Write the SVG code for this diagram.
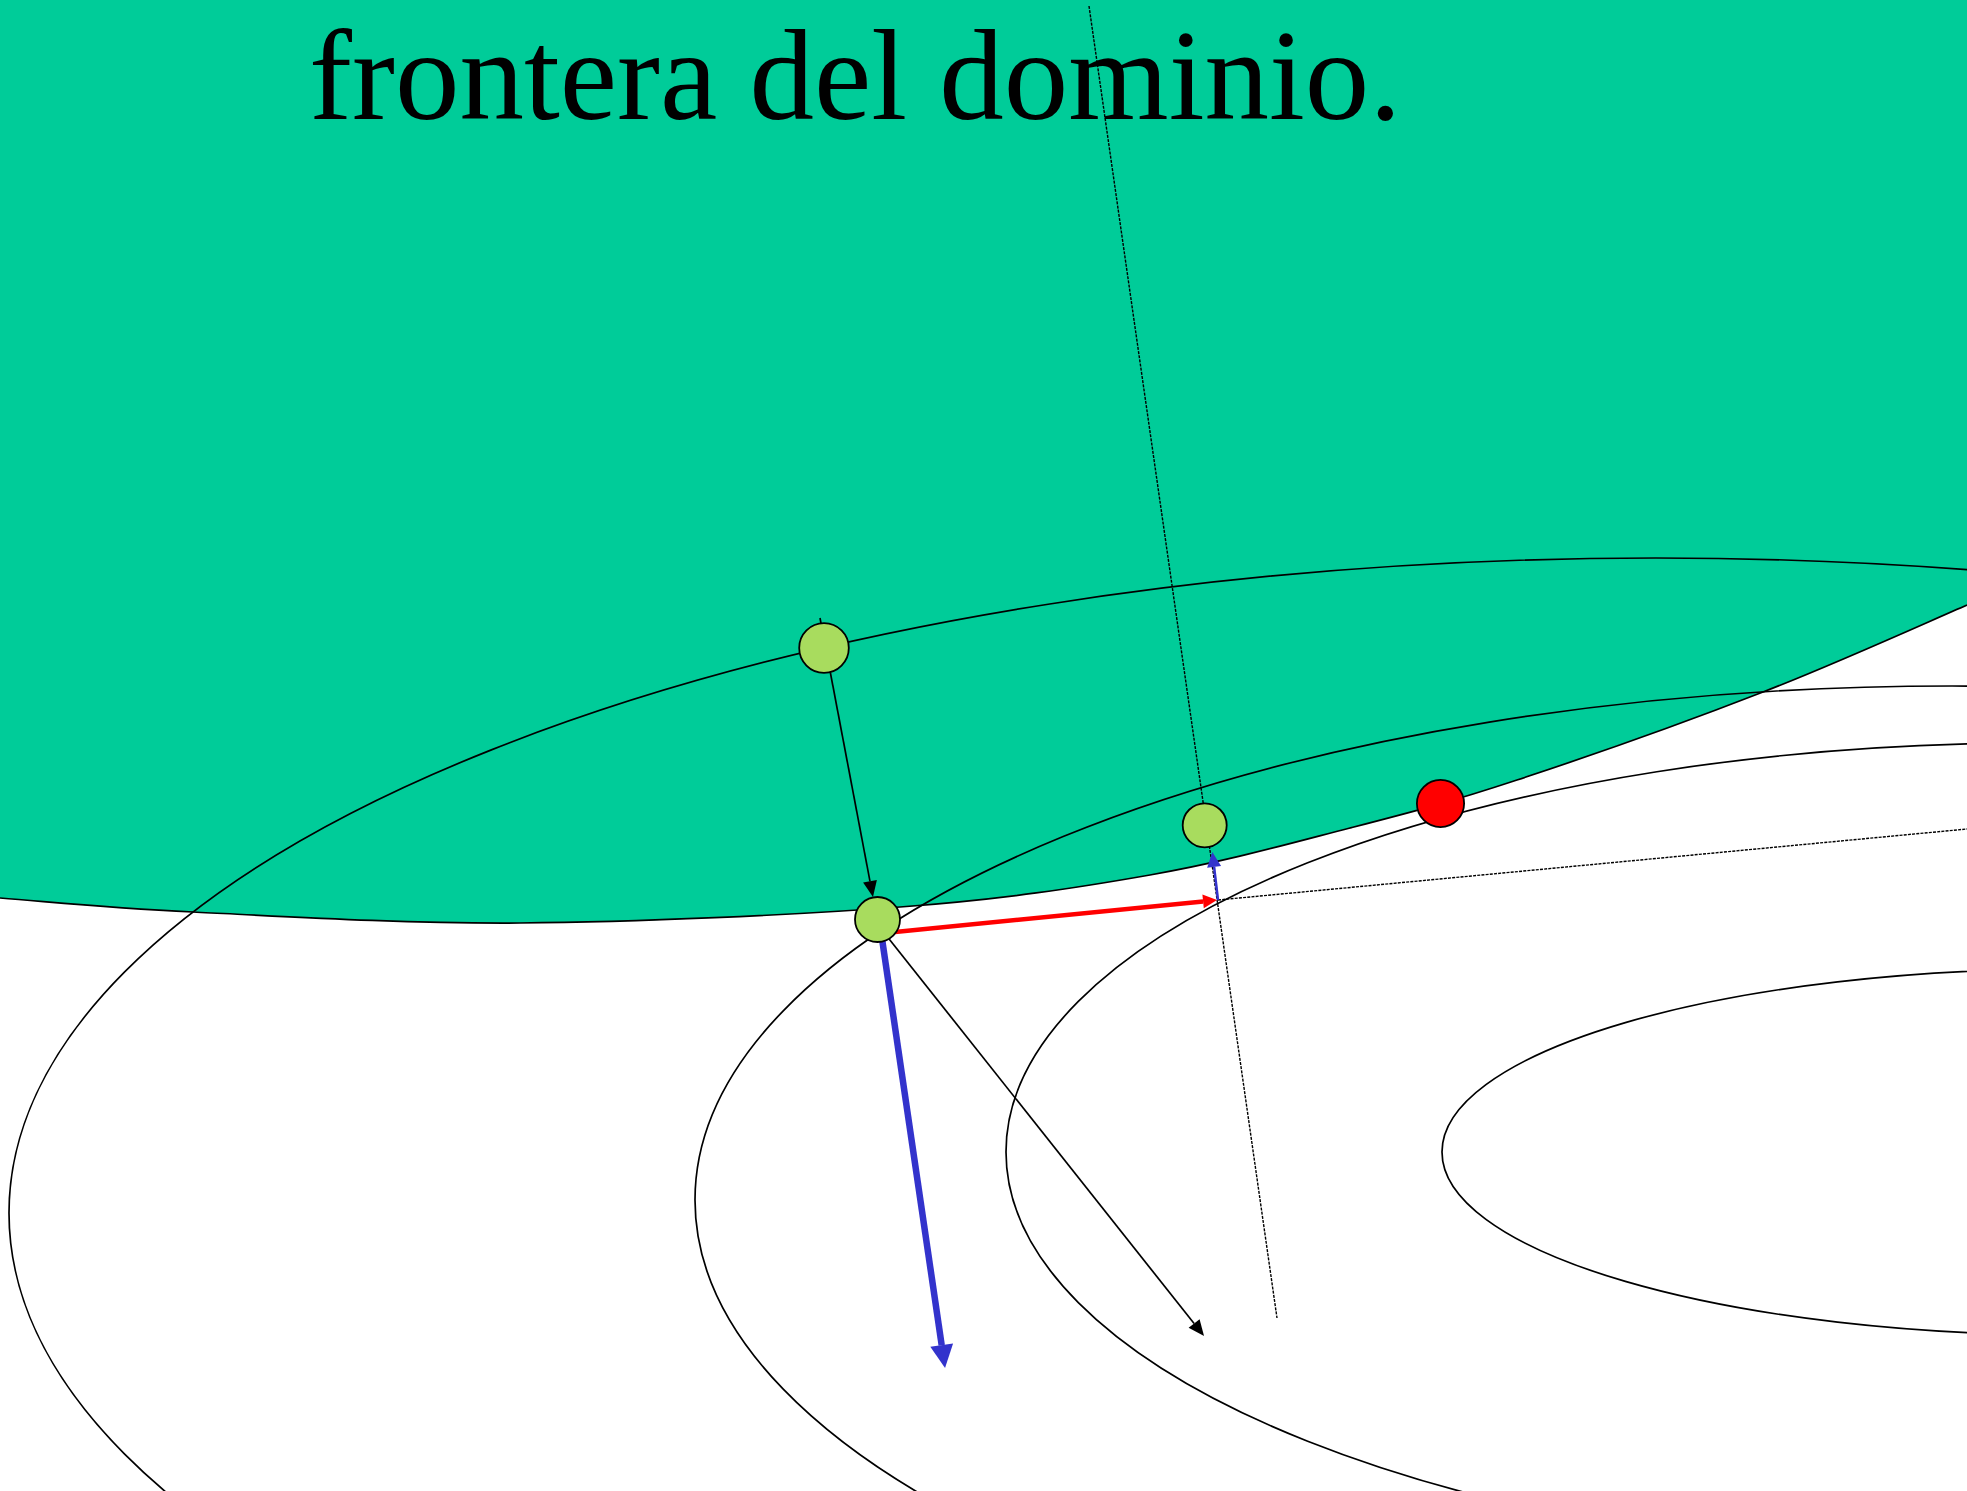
<svg xmlns="http://www.w3.org/2000/svg" width="1967" height="1491" viewBox="0 0 1967 1491">
<style>
.contour{fill:none;stroke:#000;stroke-width:1.7}
.dash{fill:none;stroke:#000;stroke-width:1.4;stroke-dasharray:3 1.2}
.pt{fill:#A8DC5E;stroke:#000;stroke-width:1.8}
.best{fill:#FF0000;stroke:#000;stroke-width:1.8}
.title{font-family:"Liberation Serif","Times New Roman",serif;font-size:129px;fill:#000}
</style>
<defs>
<marker id="ahBlack" markerUnits="userSpaceOnUse" markerWidth="16" markerHeight="14" refX="0" refY="7" orient="auto" overflow="visible"><path d="M0,0 L16,7 L0,14 Z" fill="#000"/></marker>
<marker id="ahRed" markerUnits="userSpaceOnUse" markerWidth="14" markerHeight="14" refX="0" refY="7" orient="auto" overflow="visible"><path d="M0,0 L14,7 L0,14 Z" fill="#FF0000"/></marker>
<marker id="ahBlueBig" markerUnits="userSpaceOnUse" markerWidth="23" markerHeight="23" refX="0" refY="11.5" orient="auto" overflow="visible"><path d="M0,0 L23,11.5 L0,23 Z" fill="#3333CC"/></marker>
<marker id="ahBlueSmall" markerUnits="userSpaceOnUse" markerWidth="15" markerHeight="14" refX="0" refY="7" orient="auto" overflow="visible"><path d="M0,0 L15,7 L0,14 Z" fill="#3333CC"/></marker>
</defs>
<rect x="0" y="0" width="1967" height="1491" fill="#FFFFFF"/>
<g id="domain">
<path d="M0,0 L0,898 C65.5,903.3 106.3,907.8 193,912 C279.7,916.2 402.2,923.8 520,923 C637.8,922.2 795,915 900,907 C1005,899 1075,888.2 1150,875 C1225,861.8 1288.8,843.8 1350,828 C1411.2,812.2 1448.2,802.7 1517,780 C1585.8,757.3 1688,721.2 1763,692 C1838,662.8 1927.5,622 1967,605 L1967,0 Z" fill="#00CC99"/>
</g>
<g id="contours">
<ellipse class="contour" cx="1656" cy="1213" rx="1647" ry="655"/>
<ellipse class="contour" cx="1952" cy="1200" rx="1257" ry="514"/>
<ellipse class="contour" cx="2036" cy="1152" rx="1030" ry="409"/>
<ellipse class="contour" cx="2068" cy="1152" rx="626" ry="183"/>
</g>
<g id="boundary">
<path class="contour" d="M0,898 C65.5,903.3 106.3,907.8 193,912 C279.7,916.2 402.2,923.8 520,923 C637.8,922.2 795,915 900,907 C1005,899 1075,888.2 1150,875 C1225,861.8 1288.8,843.8 1350,828 C1411.2,812.2 1448.2,802.7 1517,780 C1585.8,757.3 1688,721.2 1763,692 C1838,662.8 1927.5,622 1967,605"/>
</g>
<text class="title" x="309" y="119">frontera del dominio.</text>
<g id="connectors">
<line class="dash" x1="1089" y1="6" x2="1277" y2="1318"/>
<line class="dash" x1="1218" y1="900" x2="1967" y2="829"/>
<line x1="820" y1="618" x2="870" y2="881.3" stroke="#000" stroke-width="1.7" marker-end="url(#ahBlack)"/>
<line x1="878" y1="925" x2="1194.1" y2="1323.5" stroke="#000" stroke-width="1.7" marker-end="url(#ahBlack)"/>
<line x1="880" y1="933.5" x2="1203.1" y2="901.4" stroke="#FF0000" stroke-width="4.5" marker-end="url(#ahRed)"/>
<line x1="880" y1="925" x2="941.7" y2="1345.2" stroke="#3333CC" stroke-width="6.5" marker-end="url(#ahBlueBig)"/>
<line x1="1218" y1="900" x2="1214.1" y2="866.9" stroke="#3333CC" stroke-width="2.5" marker-end="url(#ahBlueSmall)"/>
</g>
<g id="node-top"><circle class="pt" cx="824" cy="648" r="24.8"/></g>
<g id="node-boundary"><circle class="pt" cx="877.5" cy="919.5" r="22.5"/></g>
<g id="node-projected"><circle class="pt" cx="1204.7" cy="825.3" r="22"/></g>
<g id="node-optimum"><circle class="best" cx="1440.5" cy="803.5" r="23.6"/></g>
</svg>
